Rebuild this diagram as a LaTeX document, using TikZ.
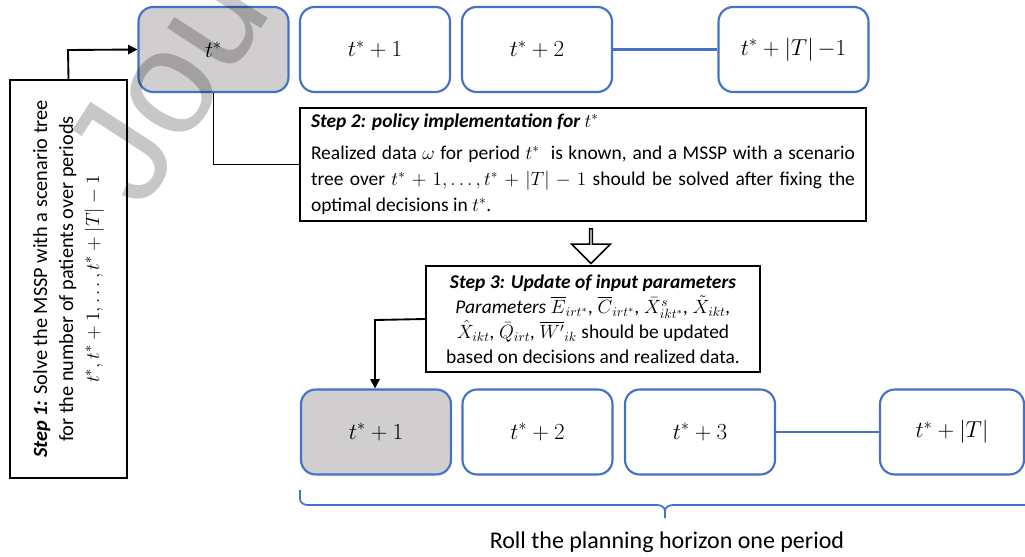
\documentclass[tikz,border=0pt]{standalone}
\usepackage{fontspec}
\setmainfont{Carlito}
\newfontfamily\wmfont{Liberation Sans}
\usepackage{amsmath}
\usetikzlibrary{arrows.meta,shapes.arrows}
\definecolor{boxblue}{HTML}{4472C4}
\definecolor{boxgray}{HTML}{D0CECE}
\tikzset{
  period/.style={draw=boxblue, line width=1.6pt, rounded corners=11pt, fill=white,
    minimum width=112.5pt, minimum height=63.75pt, inner sep=0pt, font=\fontsize{18.5}{22}\selectfont},
  current/.style={period, fill=boxgray},
  stepbox/.style={draw=black, line width=1.4pt, fill=white, inner sep=0pt, font=\fontsize{14.6}{19.5}\selectfont},
  conn/.style={draw=black, line width=1.4pt},
  link/.style={draw=boxblue, line width=1.6pt},
}
\begin{document}
\begin{tikzpicture}[x=0.75pt,y=-0.75pt]
\useasboundingbox (0,0) rectangle (1025,557);
% top row
\node[current] (a0) at (213.5,49.5) {$t^*$};
\node[period] (a1) at (375,49.5) {$t^*+1$};
\node[period] (a2) at (537,49.5) {$t^*+2$};
\node[period] (a3) at (793.5,49.5) {$t^*+|T|\,{-}1$};
\draw[link] (a2.east) -- (a3.west);
% bottom row
\node[current] (b0) at (376,432) {$t^*+1$};
\node[period] (b1) at (537.5,432) {$t^*+2$};
\node[period] (b2) at (700,432) {$t^*+3$};
\node[period, minimum width=108pt] (b3) at (952,432) {$t^*+|T|$};
\draw[link] (b2.east) -- (b3.west);
% step 1
\node[stepbox, rotate=90, minimum width=298.5pt, minimum height=87.75pt, align=center,
  font=\fontsize{15.2}{19.5}\selectfont] (s1) at (68.5,279)
  {\textbf{\textit{Step 1:}} Solve the MSSP with a scenario tree\\
   for the number of patients over periods\\
   $t^*, t^*+1,\ldots,t^*+|T|-1$};
% step 2
\node[stepbox, minimum width=424.5pt, minimum height=85pt, text width=408pt, align=justify] (s2) at (583,164.5)
  {{\bfseries\itshape Step 2: policy implementation for $t^*$}\par\vspace{4.5pt}
   Realized data $\omega$ for period $t^*$\ \ is known, and a MSSP with a scenario\linebreak
   tree over $t^*+1,\ldots,t^*+|T|-1$ should be solved after fixing the\linebreak
   optimal decisions in $t^*$.};
% step 3
\node[stepbox, minimum width=250pt, minimum height=79pt, align=center, font=\fontsize{14.6}{18.8}\selectfont] (s3) at (593,319)
  {{\bfseries\itshape Step 3: Update of input parameters}\\
   \textit{Parameters} $\overline{E}_{irt^*}$\textit{,} $\overline{C}_{irt^*}$\textit{,} $\bar{X}^s_{ikt^*}$\textit{,} $\tilde{X}_{ikt}$\textit{,}\\
   $\hat{X}_{ikt}$\textit{,} $\bar{Q}_{irt}$\textit{,} $\overline{W'}_{ik}$ should be updated\\
   based on decisions and realized data.};
% hollow arrow
\node[single arrow, draw=black, line width=1.1pt, fill=white, shape border rotate=270,
  minimum height=26pt, minimum width=29pt, single arrow head extend=7.5pt, inner sep=0pt] (ha) at (591,245.5) {};
% connectors
\coordinate (c1) at (68,50);
\draw[conn, -{Triangle[length=7pt,width=7pt]}] (s1.east) -- (c1) -- (a0.west);
\draw[conn] (a0.south) |- (s2.west);
\coordinate (c3) at (375,320);
\draw[conn, -{Triangle[length=7pt,width=7pt]}] (s3.west) -- (c3) -- (c3 |- b0.north);
% brace
\coordinate (br0) at (300,490);
\coordinate (br1) at (1025,490);
\coordinate (brm) at (665,518);
\draw[boxblue, line width=1.3pt] (br0) -- (300,499) to[out=-90,in=180] (308,505) -- (657,505) to[out=0,in=90] (665,511) -- (brm);
\draw[boxblue, line width=1.3pt] (665,511) to[out=90,in=180] (673,505) -- (br1 |- 0,505);
\node[font=\fontsize{18}{21}\selectfont] (roll) at (667,542) {Roll the planning horizon one period};
% watermark
\begin{scope}
\clip (0,0) rectangle (1025,557);
\node[rotate=57, anchor=base west, text=black, opacity=0.22, inner sep=0pt,
  font=\wmfont\fontsize{112}{112}\selectfont] (wm) at (142,212) {Journal Pre-proof};
\end{scope}
\end{tikzpicture}
\end{document}
